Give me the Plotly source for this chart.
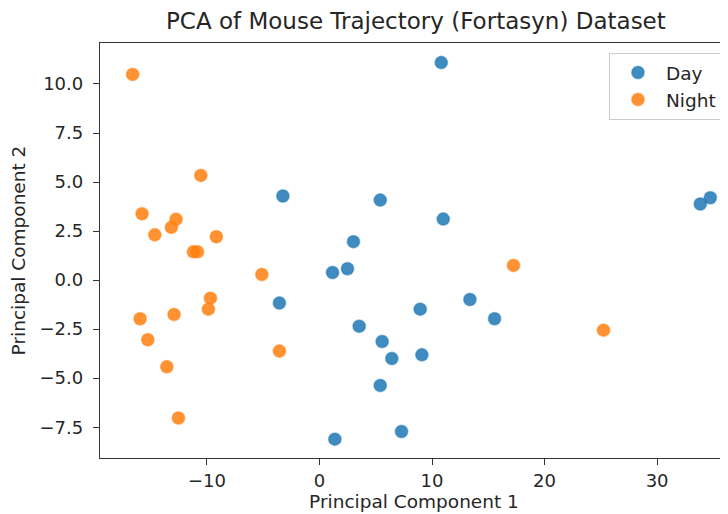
import plotly.graph_objects as go

# Day series (PC1, PC2)
day_pc1 = [10.82, -3.25, 5.40, 11.00, 3.02, 1.16, 2.49, -3.56, 3.53, 5.57,
           6.43, 8.95, 9.10, 5.40, 1.37, 7.29, 13.37, 15.56, 33.84, 34.73]
day_pc2 = [11.09, 4.29, 4.08, 3.11, 1.96, 0.39, 0.58, -1.17, -2.35, -3.13,
           -4.00, -1.48, -3.81, -5.37, -8.11, -7.72, -0.99, -1.97, 3.88, 4.20]

# Night series (PC1, PC2)
night_pc1 = [-16.60, -10.54, -15.76, -14.63, -13.16, -12.74, -11.20, -10.84, -9.16, -9.69,
             -9.87, -15.94, -12.92, -15.25, -13.56, -12.53, -5.12, -3.56, 17.24, 25.24]
night_pc2 = [10.49, 5.34, 3.38, 2.31, 2.69, 3.10, 1.44, 1.44, 2.21, -0.92,
             -1.48, -1.97, -1.75, -3.04, -4.42, -7.03, 0.29, -3.62, 0.75, -2.55]

x_ticks = [-10, 0, 10, 20, 30]
y_ticks = [-7.5, -5.0, -2.5, 0.0, 2.5, 5.0, 7.5, 10.0]
y_tick_labels = ["\u22127.5", "\u22125.0", "\u22122.5", "0.0", "2.5", "5.0", "7.5", "10.0"]
x_tick_labels = ["\u221210", "0", "10", "20", "30"]

FONT = "DejaVu Sans"
TXT = "#262626"
LBL = 18.5
TICK = 18

# page body has an 8px margin, so the figure is sized to fill the rest of the window
W, H = 720, 506

fig = go.Figure()
fig.add_trace(go.Scatter(
    x=day_pc1, y=day_pc2, mode="markers", name="Day",
    marker=dict(color="rgba(31,119,180,0.85)", size=12.5,
                line=dict(color="rgba(31,119,180,0.45)", width=1.5)),
))
fig.add_trace(go.Scatter(
    x=night_pc1, y=night_pc2, mode="markers", name="Night",
    marker=dict(color="rgba(255,127,14,0.85)", size=12.5,
                line=dict(color="rgba(255,127,14,0.45)", width=1.5)),
))

fig.update_layout(
    width=W, height=H,
    margin=dict(l=92, r=0, t=35, b=56, autoexpand=False),
    paper_bgcolor="white", plot_bgcolor="white",
    font=dict(family=FONT, size=TICK, color=TXT),
    title=dict(text="PCA of Mouse Trajectory (Fortasyn) Dataset",
               font=dict(family=FONT, size=23, color=TXT),
               x=0.503, xanchor="center", xref="paper",
               y=1 - 13 / H, yanchor="middle", automargin=False),
    showlegend=True,
    legend=dict(x=0.8105, y=0.976, xanchor="left", yanchor="top",
                bgcolor="rgba(255,255,255,0.8)", bordercolor="#cccccc", borderwidth=1,
                itemwidth=46,
                font=dict(family=FONT, size=LBL, color=TXT)),
)
fig.update_xaxes(
    range=[-19.5, 36.3], tickmode="array", tickvals=x_ticks, ticktext=x_tick_labels,
    showgrid=False, zeroline=False, showline=True, linecolor="#333333", linewidth=1.3,
    mirror=True, ticks="outside", ticklen=6, tickwidth=1.2, tickcolor="#333333",
    automargin=False,
    title=dict(text="Principal Component 1", standoff=5,
               font=dict(family=FONT, size=LBL, color=TXT)),
)
fig.update_yaxes(
    range=[-9.07, 12.09], tickmode="array", tickvals=y_ticks, ticktext=y_tick_labels,
    showgrid=False, zeroline=False, showline=True, linecolor="#333333", linewidth=1.3,
    mirror=False, ticks="outside", ticklen=6, tickwidth=1.2, tickcolor="#333333",
    ticklabelstandoff=6, automargin=False,
    title=dict(text="Principal Component 2", standoff=16,
               font=dict(family=FONT, size=LBL, color=TXT)),
)

fig.write_html("out.html")
